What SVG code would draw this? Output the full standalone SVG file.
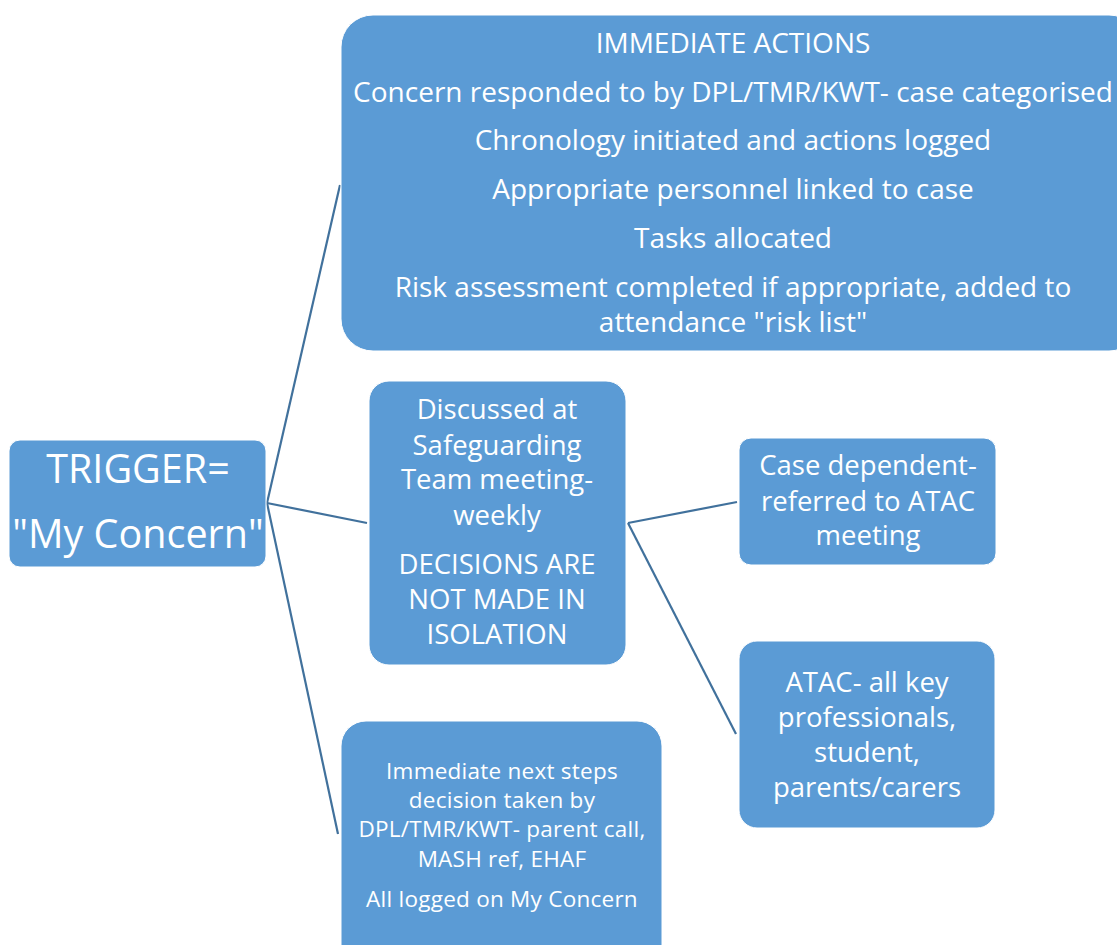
<svg xmlns="http://www.w3.org/2000/svg" width="1117" height="945" viewBox="0 0 1117 945">
<style>
.box{fill:#5B9BD5;stroke:#ffffff;stroke-width:1}
.t{fill:#ffffff;font-family:"Open Sans","Liberation Sans",sans-serif;text-anchor:middle}
.c{stroke:#41719C;stroke-width:2.2;fill:none}
</style>
<rect width="1117" height="945" fill="#ffffff"/>
<g id="connectors">
<line class="c" x1="267" y1="503" x2="340" y2="185"/>
<line class="c" x1="267" y1="503" x2="367" y2="523"/>
<line class="c" x1="267" y1="503" x2="338" y2="834"/>
<line class="c" x1="628" y1="523" x2="737" y2="502"/>
<line class="c" x1="628" y1="523" x2="736" y2="734"/>
</g>
<g id="trigger">
<rect class="box" x="9" y="440" width="257" height="127" rx="11"/>
<text class="t" font-size="39.5" x="138" y="483">TRIGGER=</text>
<text class="t" font-size="39.5" x="138" y="548">"My Concern"</text>
</g>
<g id="immediate-actions">
<rect class="box" x="341" y="15" width="800" height="336" rx="32"/>
<g class="t" font-size="28">
<text x="733" y="53">IMMEDIATE ACTIONS</text>
<text x="733" y="102">Concern responded to by DPL/TMR/KWT- case categorised</text>
<text x="733" y="150">Chronology initiated and actions logged</text>
<text x="733" y="199">Appropriate personnel linked to case</text>
<text x="733" y="248">Tasks allocated</text>
<text x="733" y="297">Risk assessment completed if appropriate, added to</text>
<text x="733" y="332">attendance "risk list"</text>
</g>
</g>
<g id="discussed">
<rect class="box" x="369" y="381" width="257" height="284" rx="20"/>
<g class="t" font-size="27.5">
<text x="497" y="419">Discussed at</text>
<text x="497" y="455">Safeguarding</text>
<text x="497" y="489">Team meeting-</text>
<text x="497" y="525">weekly</text>
<text x="497" y="574">DECISIONS ARE</text>
<text x="497" y="609">NOT MADE IN</text>
<text x="497" y="644">ISOLATION</text>
</g>
</g>
<g id="case-dependent">
<rect class="box" x="739" y="438" width="257" height="127" rx="12"/>
<g class="t" font-size="27.5">
<text x="868" y="475">Case dependent-</text>
<text x="868" y="511">referred to ATAC</text>
<text x="868" y="545">meeting</text>
</g>
</g>
<g id="atac">
<rect class="box" x="739" y="641" width="256" height="187" rx="18"/>
<g class="t" font-size="27.5">
<text x="867" y="692">ATAC- all key</text>
<text x="867" y="727">professionals,</text>
<text x="867" y="762">student,</text>
<text x="867" y="797">parents/carers</text>
</g>
</g>
<g id="next-steps">
<rect class="box" x="341" y="721" width="321" height="260" rx="25"/>
<g class="t" font-size="22.5" letter-spacing="0.25">
<text x="502" y="779">Immediate next steps</text>
<text x="502" y="808">decision taken by</text>
<text x="502" y="837">DPL/TMR/KWT- parent call,</text>
<text x="502" y="867">MASH ref, EHAF</text>
<text x="502" y="907">All logged on My Concern</text>
</g>
</g>
</svg>
